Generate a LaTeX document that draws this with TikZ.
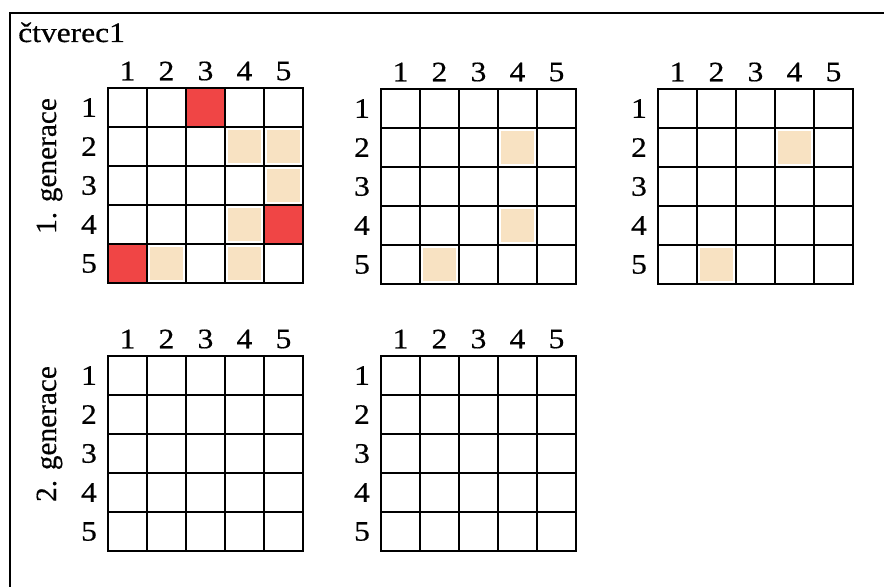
\documentclass[tikz,border=0pt]{standalone}
\usepackage{fontspec}
\setmainfont{Liberation Serif}[FakeStretch=1.12, FakeBold=0.5]
\newfontfamily\genfont{Liberation Serif}[FakeBold=0.5]
\usetikzlibrary{positioning}
\definecolor{hit}{HTML}{F04545}
\definecolor{near}{HTML}{F8E2C2}

% one 5x5 board with its row and column numbers, origin = top left corner
\newcommand{\board}[1]{%
  \foreach \i in {1,...,5} {
    \node[num] (#1-c\i) at ({(\i-0.5)*39}, -17) {\i};
    \node[num] (#1-r\i) at (-19, {(\i-0.5)*39}) {\i};
  }
  \foreach \i in {1,...,4} {
    \draw[thin line] ({\i*39}, 0) -- ({\i*39}, 195);
    \draw[thin line] (0, {\i*39}) -- (195, {\i*39});
  }
  \draw[thick line] (0,0) rectangle (195,195);
}

\begin{document}
\begin{tikzpicture}[
      x=0.03cm, y=-0.03cm,
      num/.style={font=\fontsize{24}{27}\selectfont, inner sep=0pt},
      title/.style={font=\fontsize{24}{28}\selectfont, inner sep=0pt},
      side/.style={font=\genfont\fontsize{25}{28}\selectfont, inner sep=0pt,
                   rotate=90},
      thin line/.style={line width=1.7pt},
      thick line/.style={line width=2.5pt},
      hitcell/.style={fill=hit},
      nearcell/.style={fill=near},
    ]
    \useasboundingbox (0,0) rectangle (884,587);
    \draw[thick line] (10,587) -- (10,13) -- (884,13);

    \node[title, anchor=base west] (name) at (18,42) {čtverec1};
    \node[side, anchor=base] (gen1) at (56,166) {1. generace};
    \node[side, anchor=base] (gen2) at (56,434) {2. generace};

    % 1. generace
    \begin{scope}[shift={(108,88)}]
      \foreach \r/\k in {1/3, 4/5, 5/1}
        \fill[hitcell] ({(\k-1)*39}, {(\r-1)*39}) rectangle ++(39,39);
      \foreach \r/\k in {2/4, 2/5, 3/5, 4/4, 5/2, 5/4}
        \fill[nearcell] ({(\k-1)*39+3}, {(\r-1)*39+3}) rectangle ++(33,33);
      \board{a}
    \end{scope}
    \begin{scope}[shift={(381,89)}]
      \foreach \r/\k in {2/4, 4/4, 5/2}
        \fill[nearcell] ({(\k-1)*39+3}, {(\r-1)*39+3}) rectangle ++(33,33);
      \board{b}
    \end{scope}
    \begin{scope}[shift={(658,89)}]
      \foreach \r/\k in {2/4, 5/2}
        \fill[nearcell] ({(\k-1)*39+3}, {(\r-1)*39+3}) rectangle ++(33,33);
      \board{c}
    \end{scope}

    % 2. generace
    \begin{scope}[shift={(108,356)}]
      \board{d}
    \end{scope}
    \begin{scope}[shift={(381,356)}]
      \board{e}
    \end{scope}
  \end{tikzpicture}
\end{document}
